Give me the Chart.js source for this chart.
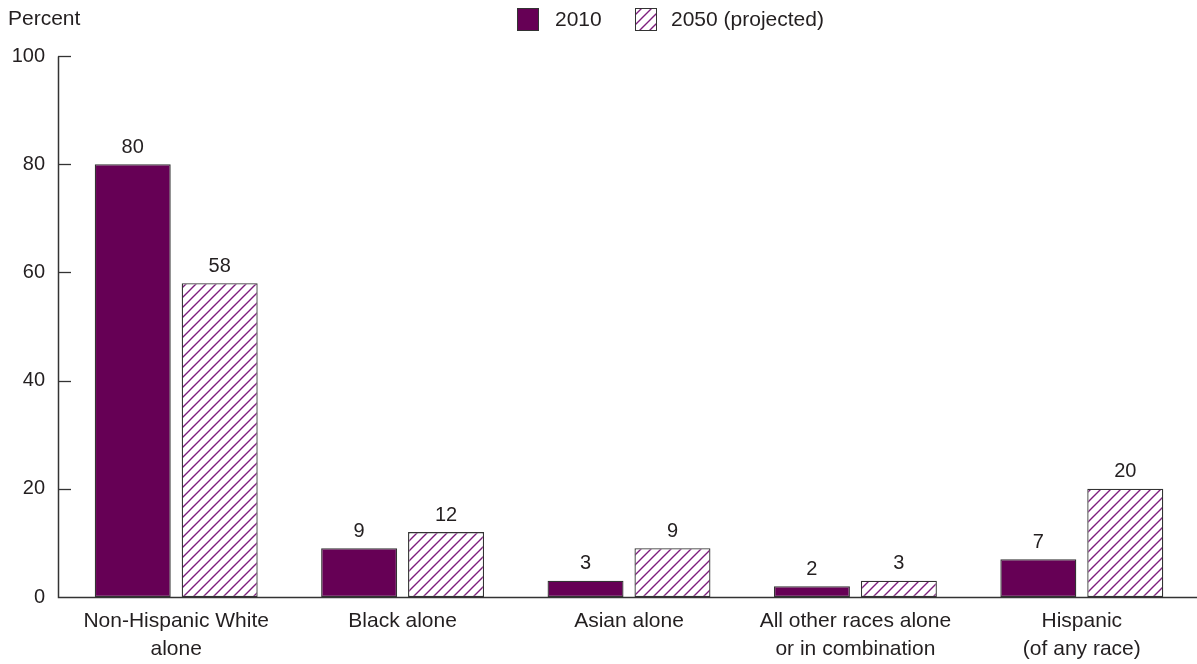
<!DOCTYPE html>
<html>
<head>
<meta charset="utf-8">
<script src="https://cdn.jsdelivr.net/npm/chart.js@4"></script>
<style>
  html, body { margin: 0; padding: 0; background: #fff; }
  #wrap { width: 1197px; height: 664px; position: relative; }
</style>
</head>
<body>
<div id="wrap"><canvas id="chart" width="1197" height="664"></canvas></div>
<script>
// population shares by race / Hispanic origin
var categories = [
    ['Non-Hispanic White', 'alone'],
    'Black alone',
    'Asian alone',
    ['All other races alone', 'or in combination'],
    ['Hispanic', '(of any race)']
];
var values2010 = [80, 9, 3, 2, 7];
var values2050 = [58, 12, 9, 3, 20];
var seriesNames = ['2010', '2050 (projected)'];
var yTicks = [0, 20, 40, 60, 80, 100];

var PURPLE = '#660055';
var HATCH = '#7d1f7d';
var EDGE = '#333333';
var TEXT = '#231f20';
var FONT = '"Liberation Sans", Arial, sans-serif';
var AXIS_X = 58;   // where the vertical axis line sits

function makeHatch() {
    var c = document.createElement('canvas');
    c.width = 10; c.height = 10;
    var g = c.getContext('2d');
    g.fillStyle = '#fff';
    g.fillRect(0, 0, 10, 10);
    g.strokeStyle = HATCH;
    g.lineWidth = 1.4;
    g.beginPath();
    g.moveTo(-1, 11); g.lineTo(11, -1);
    g.moveTo(-6, 6); g.lineTo(6, -6);
    g.moveTo(4, 16); g.lineTo(16, 4);
    g.stroke();
    return g.createPattern(c, 'repeat');
}
var hatch = makeHatch();

// value labels, axis lines with inward ticks, "Percent" title and the legend
var extras = {
    id: 'extras',
    afterDatasetsDraw: function (chart) {
        var ctx = chart.ctx;
        ctx.save();
        ctx.fillStyle = TEXT;
        ctx.font = '20px ' + FONT;
        ctx.textAlign = 'center';
        ctx.textBaseline = 'bottom';
        chart.data.datasets.forEach(function (ds, i) {
            chart.getDatasetMeta(i).data.forEach(function (bar, j) {
                ctx.fillText(String(ds.data[j]), bar.x, bar.y - 7);
            });
        });
        ctx.restore();
    },
    afterDraw: function (chart) {
        var ctx = chart.ctx;
        var y = chart.scales.y;
        var area = chart.chartArea;
        var top = Math.round(y.getPixelForValue(100)) + 0.5;
        var bottom = Math.round(y.getPixelForValue(0)) + 0.5;
        ctx.save();
        ctx.strokeStyle = EDGE;
        ctx.lineWidth = 1.5;
        ctx.beginPath();
        ctx.moveTo(AXIS_X + 0.5, top);
        ctx.lineTo(AXIS_X + 0.5, bottom);
        ctx.lineTo(area.right + 2, bottom);
        ctx.stroke();
        ctx.lineWidth = 1.3;
        yTicks.forEach(function (t) {
            if (t === 0) return;
            var py = Math.round(y.getPixelForValue(t)) + 0.5;
            ctx.beginPath();
            ctx.moveTo(AXIS_X, py);
            ctx.lineTo(AXIS_X + 13, py);
            ctx.stroke();
        });

        ctx.fillStyle = TEXT;
        ctx.font = '21px ' + FONT;
        ctx.textBaseline = 'middle';
        ctx.textAlign = 'left';
        ctx.fillText('Percent', 8, 19);

        // legend
        var boxes = [{ x: 517, fill: PURPLE, text: seriesNames[0], tx: 555 },
                     { x: 635, fill: hatch, text: seriesNames[1], tx: 671 }];
        boxes.forEach(function (b) {
            ctx.fillStyle = b.fill;
            ctx.fillRect(b.x, 8, 21, 22);
            ctx.strokeStyle = EDGE;
            ctx.lineWidth = 1;
            ctx.strokeRect(b.x + 0.5, 8.5, 21, 22);
            ctx.fillStyle = TEXT;
            ctx.fillText(b.text, b.tx, 20);
        });
        ctx.restore();
    }
};

new Chart(document.getElementById('chart'), {
    type: 'bar',
    data: {
        labels: categories,
        datasets: [
            {
                label: seriesNames[0],
                data: values2010,
                backgroundColor: PURPLE,
                borderColor: EDGE,
                borderWidth: 1.3,
                borderSkipped: false
            },
            {
                label: seriesNames[1],
                data: values2050,
                backgroundColor: hatch,
                borderColor: EDGE,
                borderWidth: 1.3,
                borderSkipped: false
            }
        ]
    },
    options: {
        responsive: false,
        animation: false,
        devicePixelRatio: 1,
        layout: { padding: { top: 56, right: 2, left: 0, bottom: 0 } },
        categoryPercentage: 0.768,
        barPercentage: 0.874,
        plugins: {
            legend: { display: false },
            tooltip: { enabled: false }
        },
        scales: {
            x: {
                afterFit: function (scale) { scale.height = 67; },
                grid: { display: false, drawTicks: false },
                border: { display: false },
                ticks: {
                    color: TEXT,
                    font: { family: FONT, size: 21, lineHeight: 1.3 },
                    padding: 11,
                    maxRotation: 0,
                    autoSkip: false
                }
            },
            y: {
                min: 0,
                max: 100,
                afterBuildTicks: function (scale) {
                    scale.ticks = yTicks.map(function (v) { return { value: v }; });
                },
                afterFit: function (scale) { scale.width = 63; },
                grid: { display: false, drawTicks: false },
                border: { display: false },
                ticks: {
                    color: TEXT,
                    font: { family: FONT, size: 20 },
                    padding: 18
                }
            }
        }
    },
    plugins: [extras]
});
</script>
</body>
</html>
